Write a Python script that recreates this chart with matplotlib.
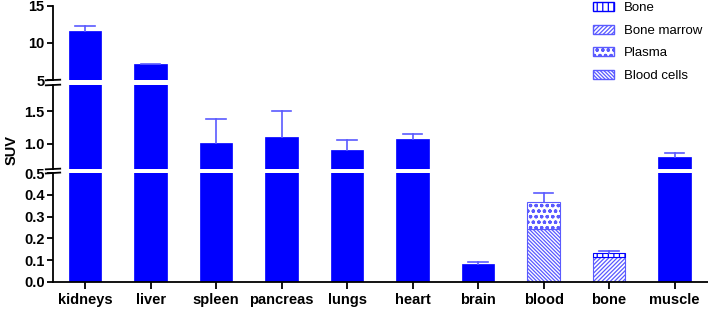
import numpy as np
import matplotlib
matplotlib.use("Agg")
import matplotlib.pyplot as plt
from matplotlib.patches import Patch

plt.rcParams["font.family"] = ["Liberation Sans", "DejaVu Sans"]
plt.rcParams["hatch.linewidth"] = 0.9

organs = ["kidneys", "liver", "spleen", "pancreas", "lungs", "heart",
          "brain", "blood", "bone", "muscle"]
suv = [11.6, 7.12, 1.02, 1.10, 0.91, 1.08, 0.082, np.nan, np.nan, 0.80]
suv_err_top = [12.3, 7.2, 1.39, 1.50, 1.06, 1.15, 0.091, 0.406, 0.143, 0.85]

blood_cells = 0.245
plasma = 0.122
bone_marrow = 0.114
bone = 0.020

solid = "#0000ff"
light = "#5a5aff"
h_cells = "\\" * 9
h_marrow = "/" * 8
h_plasma = "ooo"
h_bone = "|||"

fig = plt.figure(figsize=(7.08, 3.09), dpi=100)
left, width = 53 / 708, 655 / 708
ax_bot = fig.add_axes([left, 0.0874, width, 0.3527])
ax_mid = fig.add_axes([left, 0.4531, width, 0.2718])
ax_top = fig.add_axes([left, 0.7411, width, 0.2395])
axes = [ax_bot, ax_mid, ax_top]

x = np.arange(len(organs))
w = 0.5
bi = organs.index("blood")
oi = organs.index("bone")

for ax in axes:
    ax.bar(x, suv, width=w, color=solid, edgecolor=solid, linewidth=0.5)
    # blood: blood cells + plasma
    ax.bar(bi, blood_cells, width=w, color="white", edgecolor=light,
           hatch=h_cells, linewidth=0.8)
    ax.bar(bi, plasma, bottom=blood_cells, width=w, color="white",
           edgecolor=light, hatch=h_plasma, linewidth=0.8)
    # bone: bone marrow + bone
    ax.bar(oi, bone_marrow, width=w, color="white", edgecolor=light,
           hatch=h_marrow, linewidth=0.8)
    ax.bar(oi, bone, bottom=bone_marrow, width=w, color="white",
           edgecolor=solid, hatch=h_bone, linewidth=0.8)
    tops = [s if not np.isnan(s) else 0 for s in suv]
    tops[bi] = blood_cells + plasma
    tops[oi] = bone_marrow + bone
    for xi, t, e in zip(x, tops, suv_err_top):
        ax.plot([xi, xi], [t, e], color=light, lw=1.2)
        ax.plot([xi - 0.15, xi + 0.15], [e, e], color=light, lw=1.2)
    ax.set_xlim(-0.49, 9.51)
    for s in ["top", "right"]:
        ax.spines[s].set_visible(False)
    ax.spines["left"].set_linewidth(1.3)
    ax.spines["bottom"].set_linewidth(1.3)
    ax.tick_params(axis="y", length=4, width=1.3, labelsize=10.5, pad=2)

ax_bot.set_ylim(0, 0.5)
ax_bot.set_yticks([0.0, 0.1, 0.2, 0.3, 0.4, 0.5])
ax_bot.set_yticklabels(["0.0", "0.1", "0.2", "0.3", "0.4", "0.5"], fontweight="bold")
ax_bot.set_xticks(x)
ax_bot.set_xticklabels(organs, fontweight="bold", fontsize=10.5)
ax_bot.tick_params(axis="x", length=5, width=1.3, pad=3)

ax_mid.set_ylim(0.61, 1.91)
ax_mid.set_yticks([1.0, 1.5])
ax_mid.set_yticklabels(["1.0", "1.5"], fontweight="bold")

ax_top.set_ylim(5, 15)
ax_top.set_yticks([5, 10, 15])
ax_top.set_yticklabels(["5", "10", "15"], fontweight="bold")

for ax in [ax_mid, ax_top]:
    ax.spines["bottom"].set_visible(False)
    ax.set_xticks([])

# break marks on the y axis
for ax, ys in [(ax_bot, [1]), (ax_mid, [0, 1]), (ax_top, [0])]:
    for yy in ys:
        ax.plot([-0.011, 0.011], [yy - 0.004, yy + 0.004],
                transform=ax.transAxes, color="black", lw=1.3, clip_on=False)

fig.text(0.016, 0.515, "SUV", rotation=90, ha="center", va="center",
         fontweight="bold", fontsize=10.5)

handles = [
    Patch(facecolor="white", edgecolor=solid, hatch=h_bone, label="Bone"),
    Patch(facecolor="white", edgecolor=light, hatch=h_marrow, label="Bone marrow"),
    Patch(facecolor="white", edgecolor=light, hatch=h_plasma, label="Plasma"),
    Patch(facecolor="white", edgecolor=light, hatch=h_cells, label="Blood cells"),
]
fig.legend(handles=handles, loc="upper left", bbox_to_anchor=(0.821, 1.032),
           frameon=False, fontsize=9.5, handlelength=1.6, handleheight=0.7,
           labelspacing=0.78, handletextpad=0.75)

fig.savefig("out.png", dpi=100)
